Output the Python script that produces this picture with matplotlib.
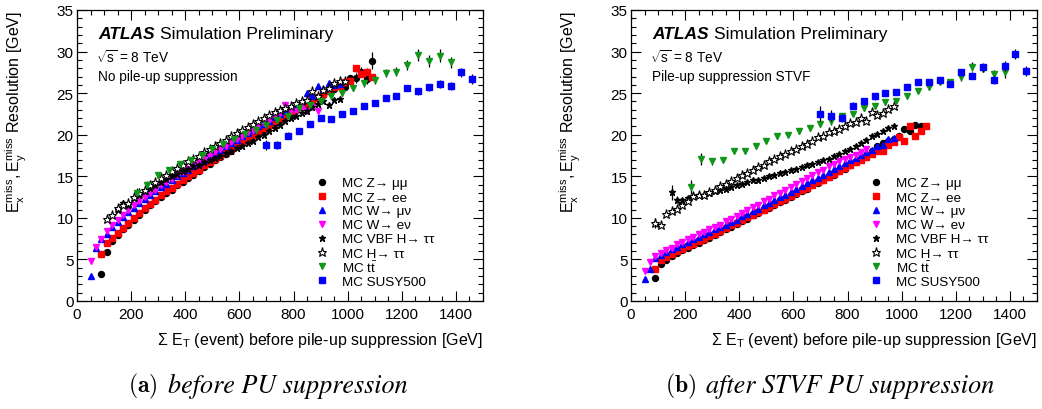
import numpy as np
import matplotlib
matplotlib.use('Agg')
import matplotlib.pyplot as plt

plt.rcParams['font.family'] = ['Liberation Sans', 'DejaVu Sans']
plt.rcParams['mathtext.fontset'] = 'custom'
plt.rcParams['mathtext.rm'] = 'Liberation Sans'
plt.rcParams['mathtext.it'] = 'Liberation Sans:italic'
plt.rcParams['mathtext.bf'] = 'Liberation Sans:bold'

# ---------------- data ----------------
# 20 GeV bins start at the first x value, 40 GeV bins for ttbar / SUSY

# (a) no pile-up suppression
zmm_a = [3.3, 5.9, 7.2, 7.9, 8.6, 9.2, 9.8, 10.4, 11.0, 11.5,
         12.0, 12.5, 13.0, 13.4, 13.9, 14.3, 14.8, 15.2, 15.6, 16.1,
         16.5, 16.9, 17.3, 17.7, 18.1, 18.6, 19.0, 19.4, 19.8, 20.2,
         20.6, 21.0, 21.4, 21.8, 22.2, 22.6, 23.0, 23.3, 23.7, 24.0,
         24.4, 24.8, 25.2, 25.5, 25.8, 25.7, 26.8, 26.8, 27.5, 26.7,
         28.9]
zee_a = [5.6, 7.0, 7.6, 8.2, 8.8, 9.4, 10.0, 10.6, 11.2, 11.7,
         12.2, 12.7, 13.2, 13.6, 14.1, 14.5, 15.0, 15.4, 15.8, 16.3,
         16.7, 17.1, 17.5, 17.9, 18.3, 18.8, 19.2, 19.6, 20.0, 20.4,
         20.8, 21.2, 21.6, 22.0, 22.4, 22.8, 23.1, 23.5, 23.8, 24.2,
         24.5, 24.9, 25.3, 25.7, 25.9, 26.3, 26.5, 28.0, 27.3, 27.5,
         27.0]
wmn_a = [3.0, 6.4, 7.4, 8.0, 8.9, 9.5, 10.1, 10.7, 11.2, 11.8,
         12.3, 12.8, 13.2, 13.7, 14.1, 14.6, 15.0, 15.4, 15.8, 16.2,
         16.6, 17.0, 17.4, 17.8, 18.2, 18.6, 19.0, 19.4, 19.8, 20.2,
         20.6, 21.0, 21.3, 21.7, 22.1, 22.5, 22.9, 23.3, 23.6, 24.0,
         25.0, 24.6, 25.9, 25.5, 26.2, 26.0, 26.1]
wen_a = [4.8, 6.5, 7.5, 8.4, 9.1, 9.8, 10.4, 10.9, 11.5, 12.0,
         12.5, 13.0, 13.4, 13.9, 14.3, 14.7, 15.1, 15.5, 15.9, 16.3,
         16.7, 17.1, 17.5, 17.9, 18.3, 18.7, 19.1, 19.5, 19.9, 20.3,
         20.6, 21.0, 21.4, 21.8, 22.2, 22.6, 23.6, 22.8, 22.9, 23.3,
         22.8, 23.3, 22.8]
vbf_a = [11.0, 11.8, 11.6, 12.4, 12.7, 13.2, 13.6, 14.0, 14.3, 14.7,
         15.0, 15.3, 15.6, 15.9, 16.2, 16.4, 16.7, 17.0, 17.2, 17.5,
         17.8, 18.1, 18.4, 18.7, 19.0, 19.3, 19.7, 20.0, 20.4, 20.8,
         21.2, 21.6, 22.0, 22.3, 22.6, 22.9, 23.3, 23.7, 24.1, 23.6,
         24.2, 24.3]
htt_a = [9.9, 10.3, 11.2, 11.6, 11.8, 12.5, 13.0, 13.4, 13.9, 14.3,
         14.8, 15.2, 15.6, 16.0, 16.4, 16.8, 17.1, 17.5, 17.9, 18.3,
         18.7, 19.0, 19.4, 19.8, 20.2, 20.6, 20.9, 21.3, 21.6, 22.0,
         22.4, 22.7, 23.0, 23.2, 23.5, 23.8, 24.0, 24.2, 25.2, 24.6,
         25.4, 25.6, 26.2, 26.5, 26.5]
ttbar_a = [13.0, 14.0, 15.1, 15.7, 16.5, 17.0, 17.6, 18.3, 18.9, 19.5,
           20.1, 20.6, 21.2, 21.8, 22.3, 23.2, 23.6, 24.1, 24.7, 25.0,
           25.6, 26.2, 26.6, 27.4, 27.6, 28.4, 29.6, 28.9, 29.5, 28.7]
ttbar_a_err = [0.6, 0.4, 0.3, 0.3, 0.3, 0.3, 0.3, 0.3, 0.3, 0.3,
               0.3, 0.3, 0.3, 0.3, 0.3, 0.3, 0.4, 0.4, 0.4, 0.4,
               0.4, 0.5, 0.5, 0.5, 0.5, 0.6, 0.7, 0.7, 0.8, 0.7]
susy_a = [18.8, 18.8, 19.9, 20.5, 21.3, 22.0, 21.9, 22.5, 22.8, 23.5,
          23.8, 24.4, 24.7, 25.6, 25.2, 25.7, 26.1, 25.9, 27.5, 26.7]
susy_a_err = [0.6, 0.5, 0.4, 0.3, 0.3, 0.3, 0.3, 0.3, 0.3, 0.3,
              0.3, 0.3, 0.3, 0.4, 0.4, 0.4, 0.5, 0.5, 0.5, 0.6]
zmm_a_err = {1010: 0.4, 1030: 0.6, 1050: 0.6, 1070: 0.6, 1090: 1.0}
zee_a_err = {1030: 0.4, 1050: 0.4, 1070: 0.5}
htt_a_err = {910: 0.4, 970: 0.4}

# (b) STVF pile-up suppression
zmm_b = [2.8, 4.4, 4.9, 5.4, 5.8, 6.1, 6.4, 6.7, 7.0, 7.3,
         7.6, 7.9, 8.3, 8.6, 8.9, 9.3, 9.6, 9.9, 10.3, 10.6,
         10.9, 11.2, 11.6, 11.9, 12.2, 12.5, 12.9, 13.2, 13.5, 13.9,
         14.2, 14.5, 14.9, 15.2, 15.6, 15.9, 16.3, 16.7, 17.1, 17.5,
         18.0, 18.7, 19.0, 19.2, 19.5, 19.9, 20.7, 20.4, 21.2, 21.0]
zee_b = [3.8, 4.9, 5.3, 5.6, 6.0, 6.3, 6.6, 6.9, 7.2, 7.5,
         7.8, 8.1, 8.4, 8.8, 9.1, 9.4, 9.7, 10.1, 10.4, 10.7,
         11.0, 11.3, 11.7, 12.0, 12.3, 12.6, 13.0, 13.3, 13.6, 14.0,
         14.3, 14.6, 14.9, 15.3, 15.6, 16.0, 16.3, 16.7, 17.0, 17.3,
         17.7, 18.0, 18.1, 18.8, 19.1, 19.7, 19.3, 21.0, 19.8, 20.5,
         21.0]
wmn_b = [2.7, 3.8, 5.2, 5.5, 5.9, 6.2, 6.5, 6.8, 7.1, 7.4,
         7.7, 8.0, 8.3, 8.6, 8.9, 9.2, 9.5, 9.8, 10.2, 10.5,
         10.8, 11.1, 11.5, 11.8, 12.1, 12.5, 12.8, 13.1, 13.5, 13.8,
         14.2, 14.5, 14.8, 15.2, 15.5, 15.9, 16.2, 16.6, 16.9, 17.2,
         17.6, 17.9, 18.2, 18.6, 18.8, 19.5, 19.6]
wen_b = [3.6, 4.7, 5.4, 5.8, 6.1, 6.4, 6.8, 7.1, 7.4, 7.7,
         8.0, 8.3, 8.6, 8.9, 9.2, 9.6, 9.9, 10.2, 10.6, 10.9,
         11.3, 11.6, 12.0, 12.3, 12.7, 13.0, 13.4, 13.7, 14.1, 14.4,
         14.8, 15.1, 15.5, 15.8, 16.2, 16.5, 16.8, 17.1, 17.3, 17.6,
         17.9, 18.3]
vbf_b = [13.1, 12.2, 12.2, 12.4, 12.6, 12.7, 12.8, 13.0, 13.2, 13.4,
         13.5, 13.7, 13.9, 14.1, 14.3, 14.5, 14.6, 14.8, 15.0, 15.2,
         15.4, 15.5, 15.7, 15.9, 16.1, 16.3, 16.5, 16.7, 16.9, 17.1,
         17.4, 17.7, 18.0, 18.3, 18.6, 19.0, 19.4, 19.8, 20.1, 20.4,
         20.8, 21.1]
htt_b = [9.4, 9.2, 10.5, 10.8, 11.1, 11.6, 12.0, 12.6, 12.7, 12.8,
         13.1, 13.4, 13.8, 14.1, 14.4, 14.8, 15.1, 15.4, 15.8, 16.1,
         16.4, 16.8, 17.1, 17.4, 17.7, 18.0, 18.3, 18.6, 18.9, 19.2,
         19.7, 19.9, 20.3, 20.5, 20.7, 21.1, 21.4, 21.5, 22.0, 21.7,
         22.7, 22.4, 22.6, 23.1, 23.5]
ttbar_b = [13.7, 17.1, 16.8, 17.0, 18.1, 18.1, 18.7, 19.3, 19.8, 20.0,
           20.4, 20.8, 21.3, 21.6, 22.3, 22.5, 23.2, 23.4, 23.9, 24.1,
           24.7, 25.3, 25.7, 26.3, 26.3, 26.9, 28.2, 27.9, 27.3, 27.5]
ttbar_b_err = [0.8, 0.7, 0.4, 0.3, 0.3, 0.3, 0.3, 0.3, 0.3, 0.3,
               0.3, 0.3, 0.4, 0.4, 0.3, 0.3, 0.3, 0.3, 0.3, 0.3,
               0.3, 0.3, 0.3, 0.3, 0.3, 0.4, 0.5, 0.4, 0.5, 0.7]
susy_b = [22.5, 22.3, 22.0, 23.5, 24.0, 24.6, 25.0, 25.1, 25.7, 26.3,
          26.3, 26.6, 26.1, 27.5, 27.1, 28.1, 26.6, 28.3, 29.7, 27.7]
susy_b_err = [0.9, 0.7, 0.5, 0.4, 0.4, 0.4, 0.3, 0.3, 0.3, 0.3,
              0.3, 0.3, 0.3, 0.4, 0.4, 0.5, 0.5, 0.6, 0.6, 0.6]
zmm_b_err = {1050: 0.3}
vbf_b_err = {150: 0.9, 170: 0.4}
htt_b_err = {90: 0.6}

labels = ['MC Z\u2192 \u03bc\u03bc', 'MC Z\u2192 ee',
          'MC W\u2192 \u03bc\u03bd', 'MC W\u2192 e\u03bd',
          'MC VBF H\u2192 \u03c4\u03c4', 'MC H\u2192 \u03c4\u03c4',
          'MC t$\\mathregular{\\bar{t}}$', 'MC SUSY500']
first_x = [90, 90, 50, 50, 150, 110, 220, 700]
first_x_b = [90, 90, 50, 50, 150, 90, 220, 700]
steps = [20, 20, 20, 20, 20, 20, 40, 40]

green = '#11961a'
styles = [dict(marker='o', ms=4.3, mfc='k', mec='k'),
          dict(marker='s', ms=4.8, mfc='#ff0000', mec='#ff0000'),
          dict(marker='^', ms=5.0, mfc='#0000ff', mec='#0000ff'),
          dict(marker='v', ms=5.0, mfc='#ff00ff', mec='#ff00ff'),
          dict(marker='*', ms=4.6, mfc='k', mec='k'),
          dict(marker='*', ms=6.8, mfc='white', mec='k', mew=0.8),
          dict(marker='v', ms=5.0, mfc=green, mec=green),
          dict(marker='s', ms=4.8, mfc='#0000ff', mec='#0000ff')]


def to_err(vals, start, step, err):
    # errors given as list or as sparse {x: err}
    if isinstance(err, dict):
        e = np.zeros(len(vals))
        for k, v in err.items():
            e[(k - start) // step] = v
        return e
    return np.array(err)


def draw_panel(ax, series, errs, starts, note):
    for i, vals in enumerate(series):
        x = starts[i] + steps[i] * np.arange(len(vals))
        e = to_err(vals, starts[i], steps[i], errs[i])
        ax.errorbar(x, vals, yerr=e, fmt='none', ecolor='k', elinewidth=0.9, capsize=0)
        ax.plot(x, vals, linestyle='none', **styles[i])

    ax.set_xlim(0, 1500)
    ax.set_ylim(0, 35)
    ax.set_xticks(np.arange(0, 1401, 200))
    ax.set_xticks(np.arange(0, 1501, 50), minor=True)
    ax.set_yticks(np.arange(0, 36, 5))
    ax.set_yticks(np.arange(0, 36, 1), minor=True)
    ax.tick_params(which='both', direction='in', top=True, right=True, labelsize=11)
    ax.tick_params(which='major', length=7, width=0.8)
    ax.tick_params(which='minor', length=3.5, width=0.8)
    ax.tick_params(axis='y', pad=2.5)
    ax.tick_params(axis='x', pad=4)
    for sp in ax.spines.values():
        sp.set_linewidth(0.9)

    ax.text(0.052, 0.904, 'ATLAS', transform=ax.transAxes, fontsize=12.5,
            fontweight='bold', style='italic')
    ax.text(0.205, 0.904, 'Simulation Preliminary', transform=ax.transAxes, fontsize=12.5)
    ax.text(0.047, 0.821, '$\\sqrt{\\mathregular{s}}$ = 8 TeV', transform=ax.transAxes, fontsize=9.8)
    ax.text(0.052, 0.758, note, transform=ax.transAxes, fontsize=9.8)

    # legend drawn by hand, ROOT style
    for i, lab in enumerate(labels):
        y = (302 - (183 + 14 * i)) / 291
        ax.plot([0.603], [y], transform=ax.transAxes, linestyle='none', clip_on=False, **styles[i])
        ax.text(0.653, y, lab, transform=ax.transAxes, fontsize=9.7, va='center_baseline')

    ax.text(1.0, -0.131, '\u03a3 $\\mathregular{E_{T}}$ (event) before pile-up suppression [GeV]',
            transform=ax.transAxes, ha='right', va='center', fontsize=11.5)
    ax.text(-0.148, 1.0, '$\\mathregular{E_{x}^{miss},E_{y}^{miss}}$ Resolution [GeV]',
            transform=ax.transAxes, ha='center', va='top', rotation=90, fontsize=11.5)


fig = plt.figure(figsize=(10.42, 4.10), dpi=100)
ax1 = fig.add_axes([77 / 1042, 108 / 410, 406 / 1042, 291 / 410])
ax2 = fig.add_axes([631 / 1042, 108 / 410, 406 / 1042, 291 / 410])

draw_panel(ax1, [zmm_a, zee_a, wmn_a, wen_a, vbf_a, htt_a, ttbar_a, susy_a],
           [zmm_a_err, zee_a_err, {}, {}, {}, htt_a_err, ttbar_a_err, susy_a_err],
           first_x, 'No pile-up suppression')
draw_panel(ax2, [zmm_b, zee_b, wmn_b, wen_b, vbf_b, htt_b, ttbar_b, susy_b],
           [zmm_b_err, {}, {}, {}, vbf_b_err, htt_b_err, ttbar_b_err, susy_b_err],
           first_x_b, 'Pile-up suppression STVF')

# sub-captions: bold tag in Computer Modern, italic text in a serif italic
fig.text(128 / 1042, 0.058, '$\\mathbf{(a)}$', ha='left', va='center',
         fontsize=17, math_fontfamily='cm')
fig.text(168 / 1042, 0.058, 'before PU suppression', ha='left', va='center',
         fontsize=18.8, family='STIXGeneral', style='italic')
fig.text(665 / 1042, 0.058, '$\\mathbf{(b)}$', ha='left', va='center',
         fontsize=17, math_fontfamily='cm')
fig.text(706 / 1042, 0.058, 'after STVF PU suppression', ha='left', va='center',
         fontsize=18.8, family='STIXGeneral', style='italic')

plt.savefig('out.png', dpi=100)
